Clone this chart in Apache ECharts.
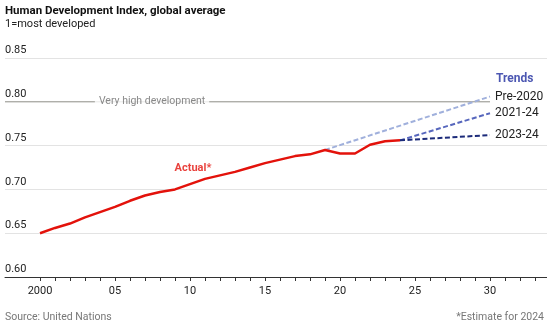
<!DOCTYPE html>
<html><head><meta charset="utf-8">
<script src="https://cdn.jsdelivr.net/npm/echarts@6/dist/echarts.min.js"></script>
<style>html,body{margin:0;padding:0;background:#fff}#c{width:547px;height:329px}</style>
</head><body><div id="c"></div>
<script>
const years = [2000,2001,2002,2003,2004,2005,2006,2007,2008,2009,2010,2011,2012,2013,2014,2015,2016,2017,2018,2019,2020,2021,2022,2023,2024];
const actual = [0.650,0.656,0.661,0.668,0.674,0.680,0.687,0.693,0.697,0.700,0.706,0.712,0.716,0.720,0.725,0.730,0.734,0.738,0.740,0.745,0.741,0.741,0.751,0.755,0.756];
const trendNames = ['Pre-2020','2021-24','2023-24'];
const trendStartYears = [2019,2024,2024];
const trendStartValues = [0.745,0.756,0.756];
const trendEndYear = 2030;
const trendEndValues = [0.806,0.787,0.762];
const thresholdValue = 0.80;
const thresholdLabel = 'Very high development';
const xTickValues = [];
for (let y = 2000; y <= 2033; y++) xTickValues.push(y);
const xLabelValues = [2000,2005,2010,2015,2020,2025,2030];
const xLabelTexts = ['2000','05','10','15','20','25','30'];
const yTicks = [0.60,0.65,0.70,0.75,0.80,0.85];

const FONT = 'Roboto';
const chart = echarts.init(document.getElementById('c'), null, {renderer:'canvas'});
const trendColors = ['#a0b0dc','#5767bd','#1c2b7a'];

const series = [
  {
    type:'line', name:'threshold', silent:true, symbol:'none',
    data:[[1997.667,thresholdValue],[trendEndYear,thresholdValue]],
    lineStyle:{color:'#8d8d86', width:1}, z:1
  },
  {
    type:'scatter', silent:true, symbolSize:0,
    data:[[2007.47,thresholdValue]],
    label:{show:true, position:'inside', formatter:thresholdLabel, color:'#6a6a6a',
      fontFamily:FONT, fontSize:10.5, backgroundColor:'#fff', padding:[1,4]}, z:3
  }
];
trendNames.forEach((n,i)=>{
  series.push({
    type:'line', name:n, symbol:'none', silent:true,
    data:[[trendStartYears[i],trendStartValues[i]],[trendEndYear,trendEndValues[i]]],
    lineStyle:{color:trendColors[i], width:2, type:[5,2.5]},
    endLabel:{show:true, formatter:n, color:'#222', fontFamily:FONT, fontSize:12, distance:5},
    z:4
  });
});
series.push({
  type:'line', name:'Actual*', symbol:'none', silent:true,
  data: years.map((y,i)=>[y,actual[i]]),
  lineStyle:{color:'#e3120b', width:2.5}, z:5
});
series.push({
  type:'scatter', silent:true, symbolSize:0,
  data:[[2010.2,0.7245]],
  label:{show:true, position:'inside', formatter:'Actual*', color:'#e3120b',
    fontFamily:FONT, fontSize:11, fontWeight:'bold'}
});

chart.setOption({
  animation:false,
  grid:{left:5, right:0, top:58, bottom:52},
  xAxis:{
    type:'value', min:1997.667, max:2033.8,
    axisLine:{show:true, lineStyle:{color:'#333', width:1}},
    axisTick:{show:true, customValues:xTickValues, length:4, lineStyle:{color:'#333'}},
    axisLabel:{show:true, customValues:xLabelValues, margin:9, color:'#222', fontFamily:FONT, fontSize:11,
      formatter:(v)=>{const i = xLabelValues.indexOf(Math.round(v)); return i>=0?xLabelTexts[i]:'';}},
    splitLine:{show:false}
  },
  yAxis:{
    type:'value', min:0.60, max:0.85, interval:0.05,
    axisLine:{show:false}, axisTick:{show:false},
    axisLabel:{inside:true, margin:0, verticalAlign:'bottom', padding:[0,0,2,0], color:'#222', fontFamily:FONT, fontSize:11,
      formatter:(v)=>v.toFixed(2)},
    splitLine:{show:true, lineStyle:{color:['#e3e3e3','#e3e3e3','#e3e3e3','#e3e3e3','rgba(0,0,0,0)','#e3e3e3'], width:1}}
  },
  series: series,
  graphic:[
    {type:'text', left:5, top:5, style:{text:'Human Development Index, global average', fontFamily:FONT, fontSize:11.5, fontWeight:'bold', fill:'#111'}},
    {type:'text', left:5, top:19, style:{text:'1=most developed', fontFamily:FONT, fontSize:11, fill:'#222'}},
    {type:'text', left:496, top:73, style:{text:'Trends', fontFamily:FONT, fontSize:12, fontWeight:'bold', fill:'#4c57b2'}},
    {type:'text', left:5, top:312, style:{text:'Source: United Nations', fontFamily:FONT, fontSize:10.5, fill:'#777'}},
    {type:'text', right:3, top:312, style:{text:'*Estimate for 2024', fontFamily:FONT, fontSize:10.5, fill:'#777'}}
  ]
});
</script></body></html>
